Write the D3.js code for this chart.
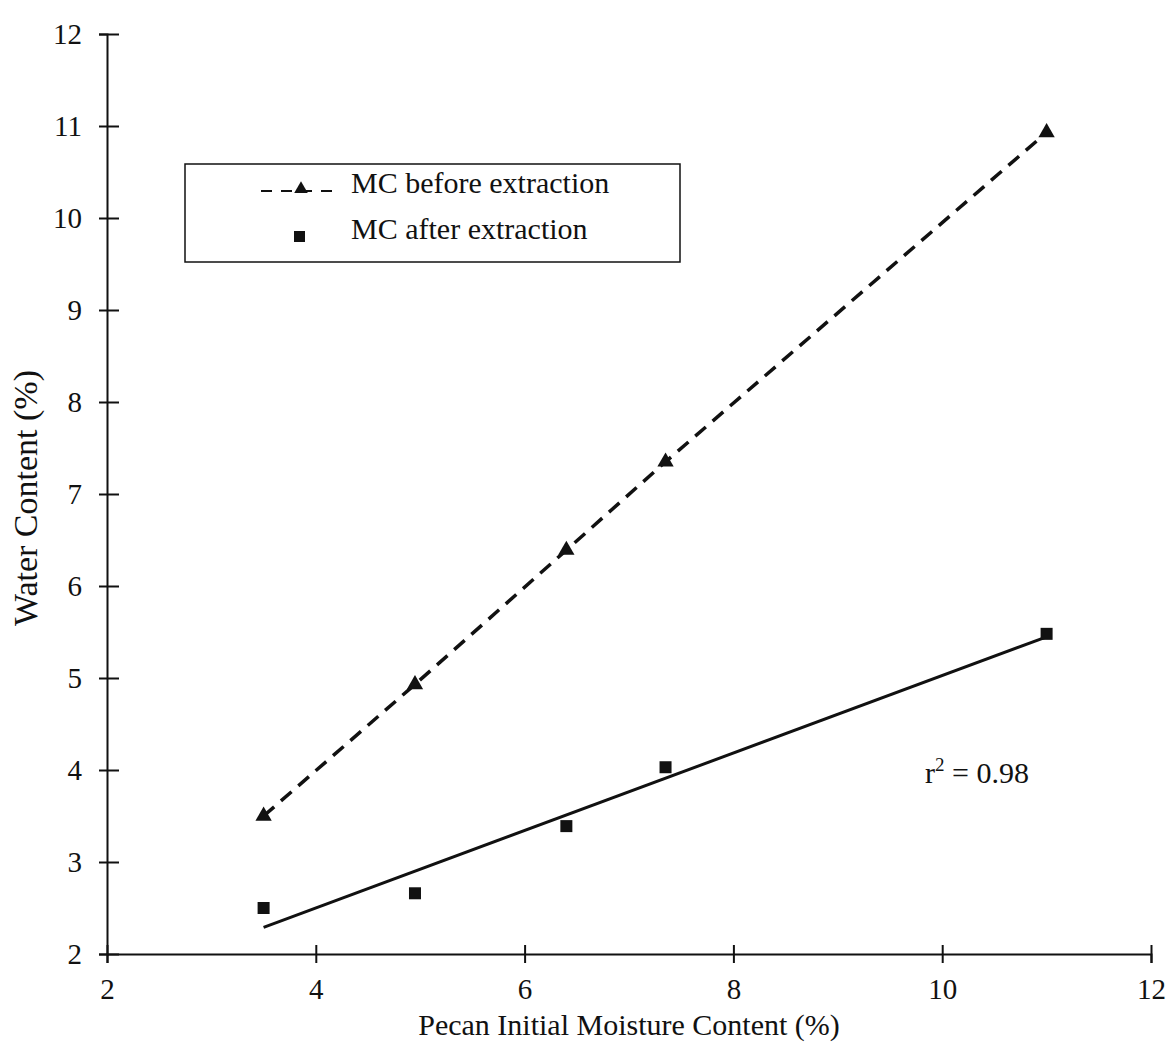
<!DOCTYPE html>
<html>
<head>
  <meta charset="utf-8">
  <title>Water Content vs Pecan Initial Moisture Content</title>
  <script src="https://d3js.org/d3.v7.min.js"></script>
</head>
<style>
  body { margin: 0; background: #fff; }
  text { font-family: "Liberation Serif", "Times New Roman", serif; fill: #111; }
</style>
<body>
</body>
<script>

  // data
  var initialMC = [3.5, 4.95, 6.4, 7.35, 11.0];
  var mcBefore = [3.5, 4.93, 6.39, 7.35, 10.93];
  var mcAfter = [2.5, 2.66, 3.39, 4.03, 5.48];
  var xTicks = [2, 4, 6, 8, 10, 12];
  var yTicks = [2, 3, 4, 5, 6, 7, 8, 9, 10, 11, 12];

  var W = 1172, H = 1048;
  var margin = {top: 34, right: 21, bottom: 94, left: 107};

  var svg = d3.select('body').append('svg')
    .attr('width', W)
    .attr('height', H);

  var x = d3.scaleLinear().domain([2, 12]).range([margin.left, W - margin.right]);
  var y = d3.scaleLinear().domain([2, 12]).range([H - margin.bottom, margin.top]);

  // axes (ticks cross the axis line)
  var xAxis = svg.append('g')
    .attr('transform', 'translate(0,' + y(2) + ')')
    .call(d3.axisBottom(x).tickValues(xTicks).tickSize(9).tickPadding(15).tickFormat(d3.format('d')));
  xAxis.selectAll('.tick line').attr('y1', -9);

  var yAxis = svg.append('g')
    .attr('transform', 'translate(' + x(2) + ',0)')
    .call(d3.axisLeft(y).tickValues(yTicks).tickSize(8).tickPadding(17).tickFormat(d3.format('d')));
  yAxis.selectAll('.tick line').attr('x1', 12);

  svg.selectAll('.domain').attr('stroke', '#111').attr('stroke-width', 2);
  svg.selectAll('.tick line').attr('stroke', '#111').attr('stroke-width', 2);
  svg.selectAll('.tick text').style('font-size', '29px').style('font-family', '"Liberation Serif", serif').attr('fill', '#111');

  // axis titles
  svg.append('text')
    .attr('x', 629)
    .attr('y', 1035)
    .style('text-anchor', 'middle')
    .style('font-size', '30px')
    .text('Pecan Initial Moisture Content (%)');

  svg.append('text')
    .attr('transform', 'translate(37,498) rotate(-90)')
    .style('text-anchor', 'middle')
    .style('font-size', '34px')
    .text('Water Content (%)');

  // least squares fit for a series
  function fit(xs, ys) {
    var mx = d3.mean(xs), my = d3.mean(ys);
    var sxy = d3.sum(xs, function(v, i) { return (v - mx) * (ys[i] - my); });
    var sxx = d3.sum(xs, function(v) { return (v - mx) * (v - mx); });
    var b = sxy / sxx;
    return function(v) { return my + b * (v - mx); };
  }

  var fitAfter = fit(initialMC, mcAfter);
  var xMin = d3.min(initialMC), xMax = d3.max(initialMC);

  var line = d3.line()
    .x(function(d) { return x(d[0]); })
    .y(function(d) { return y(d[1]); });

  // before extraction: dashed line through points
  svg.append('path')
    .datum(initialMC.map(function(v, i) { return [v, mcBefore[i]]; }))
    .attr('d', line)
    .attr('fill', 'none')
    .attr('stroke', '#111')
    .attr('stroke-width', 3.5)
    .attr('stroke-dasharray', '14,9');

  // after extraction: regression line
  svg.append('path')
    .datum([[xMin, fitAfter(xMin)], [xMax, fitAfter(xMax)]])
    .attr('d', line)
    .attr('fill', 'none')
    .attr('stroke', '#111')
    .attr('stroke-width', 3);

  var tri = d3.symbol().type(d3.symbolTriangle).size(115);

  svg.selectAll('.tri')
    .data(initialMC)
    .enter()
      .append('path')
      .attr('class', 'tri')
      .attr('transform', function(d, i) { return 'translate(' + x(d) + ',' + y(mcBefore[i]) + ')'; })
      .attr('d', tri)
      .attr('fill', '#111');

  svg.selectAll('.sq')
    .data(initialMC)
    .enter()
      .append('rect')
      .attr('class', 'sq')
      .attr('x', function(d) { return x(d) - 6; })
      .attr('y', function(d, i) { return y(mcAfter[i]) - 6; })
      .attr('width', 12)
      .attr('height', 12)
      .attr('fill', '#111');

  // r squared label
  var r2 = svg.append('text')
    .attr('x', 925)
    .attr('y', 783)
    .style('font-size', '30px');
  r2.append('tspan').text('r');
  r2.append('tspan').attr('dy', -12).style('font-size', '19px').text('2');
  r2.append('tspan').attr('dy', 12).text(' = 0.98');

  // legend
  var legend = svg.append('g');
  legend.append('rect')
    .attr('x', 185)
    .attr('y', 164)
    .attr('width', 495)
    .attr('height', 98)
    .attr('fill', 'none')
    .attr('stroke', '#111')
    .attr('stroke-width', 1.5);

  legend.append('line')
    .attr('x1', 261).attr('x2', 340)
    .attr('y1', 191).attr('y2', 191)
    .attr('stroke', '#111')
    .attr('stroke-width', 2)
    .attr('stroke-dasharray', '11,9');
  legend.append('path')
    .attr('transform', 'translate(301,189)')
    .attr('d', d3.symbol().type(d3.symbolTriangle).size(80))
    .attr('fill', '#111');
  legend.append('rect')
    .attr('x', 294).attr('y', 231)
    .attr('width', 11).attr('height', 11)
    .attr('fill', '#111');

  legend.append('text')
    .attr('x', 351).attr('y', 193)
    .style('font-size', '30px')
    .text('MC before extraction');
  legend.append('text')
    .attr('x', 351).attr('y', 239)
    .style('font-size', '30px')
    .text('MC after extraction');

</script>
</html>
